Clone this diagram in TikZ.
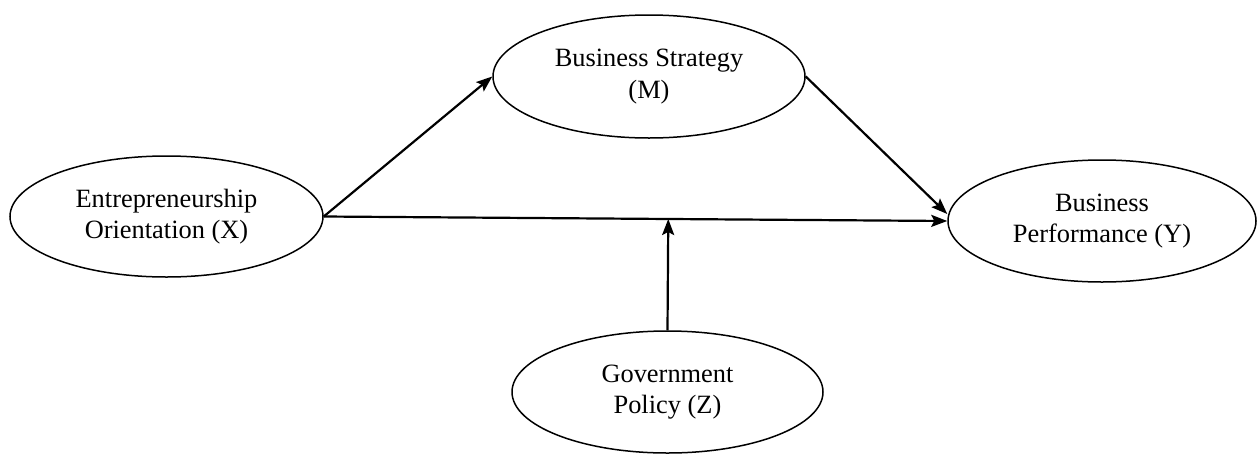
\documentclass[tikz,border=0pt]{standalone}
\usepackage{fontspec}
\setmainfont{Liberation Serif}
\usetikzlibrary{shapes.geometric,arrows.meta,calc}
\begin{document}
\begin{tikzpicture}[x=1pt,y=-1pt,
  construct/.style={ellipse,draw,line width=1.5pt,inner sep=0pt,align=center,
    font=\fontsize{26.4pt}{31.7pt}\selectfont},
  path/.style={line width=2.2pt,-{Stealth[length=16pt,width=12pt,inset=3pt]}}]
\useasboundingbox (0,0) rectangle (1258,453);
\node[construct,minimum width=313pt,minimum height=121pt] (X) at (166.5,216.5)
  {Entrepreneurship\\Orientation (X)};
\node[construct,minimum width=312pt,minimum height=123pt] (M) at (649,76.5)
  {Business Strategy\\(M)};
\node[construct,minimum width=308pt,minimum height=122pt] (Y) at (1102,221)
  {Business\\Performance (Y)};
\node[construct,minimum width=311pt,minimum height=122pt] (Z) at (667.5,392)
  {Government\\Policy (Z)};
% direct effect, mediated paths and the moderator
\coordinate (hit) at ($(X.east)!(Z.north)!(Y.west)$);
\draw[path] (X.east) -- (M.west);
\draw[path] (M.east) -- ([yshift=7pt]Y.west);
\draw[path] (X.east) -- (Y.west);
\draw[path] (Z.north) -- (hit);
\end{tikzpicture}
\end{document}
